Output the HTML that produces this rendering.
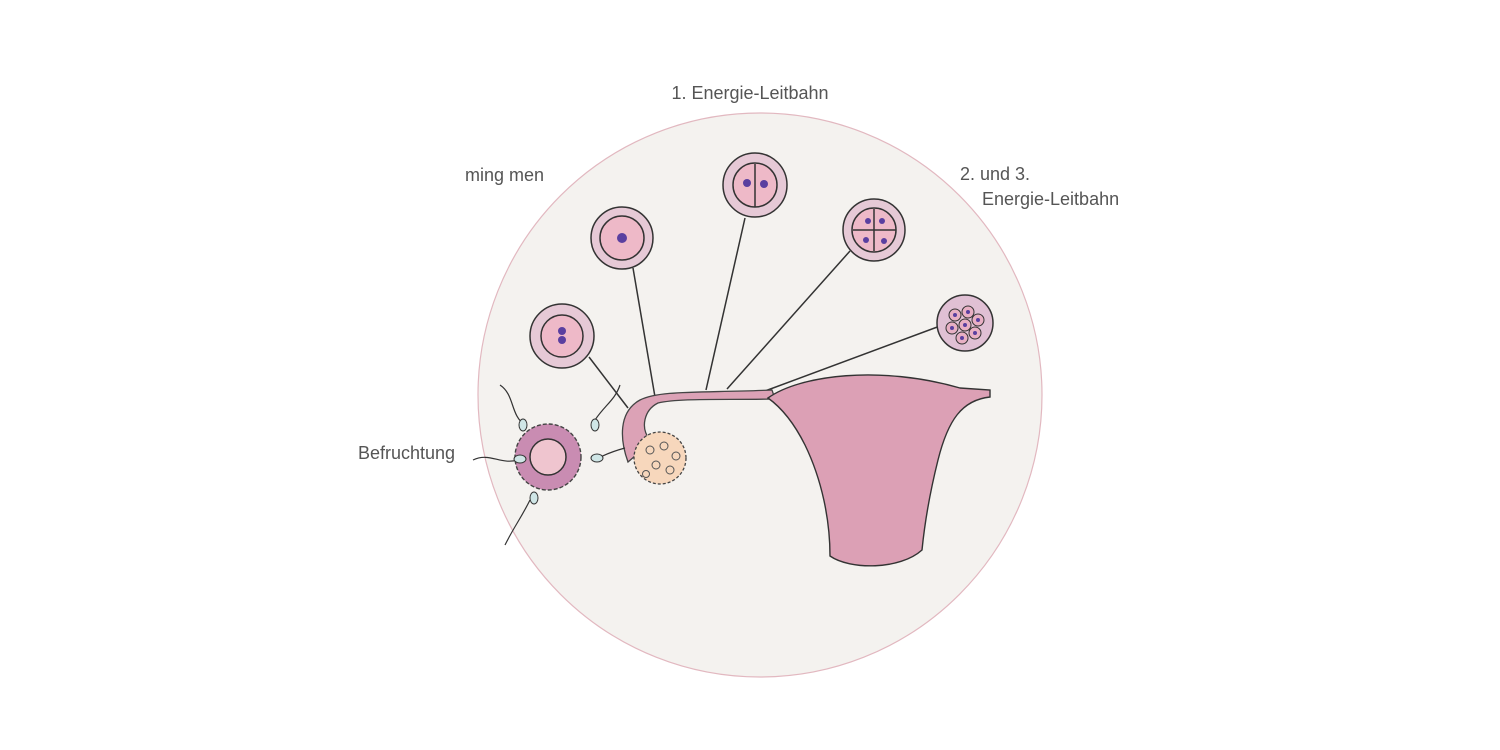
<!DOCTYPE html>
<html><head><style>
body{margin:0;background:#fff;}
svg{display:block}
text{font-family:"Liberation Sans",sans-serif;font-size:18px;fill:#555;}
</style></head><body>
<svg width="1500" height="750" viewBox="0 0 1500 750">
<circle cx="760" cy="395" r="282" fill="#f4f2ef" stroke="#e2b8c0" stroke-width="1.2"/>
<text x="750" y="99" text-anchor="middle">1. Energie-Leitbahn</text>
<text x="465" y="181">ming men</text>
<text x="960" y="180">2. und 3.</text>
<text x="982" y="205">Energie-Leitbahn</text>
<text x="358" y="459">Befruchtung</text>
<g stroke="#333" stroke-width="1.5" fill="none">
<line x1="589" y1="357" x2="628" y2="408"/>
<line x1="633" y1="268" x2="655" y2="397"/>
<line x1="745" y1="218" x2="706" y2="390"/>
<line x1="850" y1="251" x2="727" y2="389"/>
<line x1="940" y1="326" x2="765" y2="391"/>
</g>
<!-- tube -->
<path d="M628,462 C620,440 618,412 640,400 C660,390 700,393 772,390 L775,399 C720,400 680,398 658,403 C644,410 640,428 650,440 L642,450 Z" fill="#dca2b6" stroke="#444" stroke-width="1.3"/>
<!-- uterus -->
<path d="M768,398 C800,375 880,365 960,388 L990,390 L990,397 C962,400 948,420 938,460 C928,500 924,530 922,550 C900,570 850,570 830,556 C830,520 822,480 805,445 C795,425 782,408 768,398 Z" fill="#dca0b5" stroke="#333" stroke-width="1.4"/>
<!-- ovary -->
<circle cx="660" cy="458" r="26" fill="#f7d7bc" stroke="#444" stroke-width="1.3" stroke-dasharray="3 2"/>
<g fill="none" stroke="#555" stroke-width="1">
<circle cx="650" cy="450" r="4"/><circle cx="664" cy="446" r="4"/><circle cx="676" cy="456" r="4"/>
<circle cx="656" cy="465" r="4"/><circle cx="670" cy="470" r="4"/><circle cx="646" cy="474" r="3.5"/></g>
<!-- fertilization -->
<circle cx="548" cy="457" r="33" fill="#c98cb2" stroke="#444" stroke-width="1.4" stroke-dasharray="4 2"/>
<circle cx="548" cy="457" r="18" fill="#efc5cf" stroke="#333" stroke-width="1.5"/>
<g fill="none" stroke="#333" stroke-width="1.2">
<path d="M500,385 C515,395 510,415 525,425"/><path d="M473,460 C490,452 500,465 518,460"/>
<path d="M505,545 C515,525 520,520 530,500"/><path d="M620,385 C615,400 605,405 595,420"/>
<path d="M625,448 C610,452 605,455 598,458"/>
</g>
<g fill="#cfe6e6" stroke="#333" stroke-width="1"><ellipse cx="523" cy="425" rx="4" ry="6"/><ellipse cx="520" cy="459" rx="6" ry="4"/><ellipse cx="534" cy="498" rx="4" ry="6"/><ellipse cx="595" cy="425" rx="4" ry="6"/><ellipse cx="597" cy="458" rx="6" ry="4"/></g>
<!-- cells -->
<g stroke="#333" stroke-width="1.5">
<circle cx="562" cy="336" r="32" fill="#e6c9d6"/><circle cx="562" cy="336" r="21" fill="#eeb9c8"/>
<circle cx="622" cy="238" r="31" fill="#e6c9d6"/><circle cx="622" cy="238" r="22" fill="#eeb9c8"/>
<circle cx="755" cy="185" r="32" fill="#e6c9d6"/><circle cx="755" cy="185" r="22" fill="#eeb9c8"/>
<line x1="755" y1="164" x2="755" y2="207"/>
<circle cx="874" cy="230" r="31" fill="#e6c9d6"/><circle cx="874" cy="230" r="22" fill="#eeb9c8"/>
<line x1="874" y1="209" x2="874" y2="251"/><line x1="853" y1="230" x2="896" y2="230"/>
<circle cx="965" cy="323" r="28" fill="#e0c0d4"/>
</g>
<g fill="#5a3fa0"><circle cx="562" cy="331" r="4"/><circle cx="562" cy="340" r="4"/><circle cx="622" cy="238" r="5"/>
<circle cx="747" cy="183" r="4"/><circle cx="764" cy="184" r="4"/>
<circle cx="868" cy="221" r="3"/><circle cx="882" cy="221" r="3"/><circle cx="866" cy="240" r="3"/><circle cx="884" cy="241" r="3"/></g>
<g stroke="#333" stroke-width="1" fill="#e8b0c4">
<circle cx="955" cy="315" r="6"/><circle cx="968" cy="312" r="6"/><circle cx="978" cy="320" r="6"/><circle cx="965" cy="325" r="6"/><circle cx="952" cy="328" r="6"/><circle cx="975" cy="333" r="6"/><circle cx="962" cy="338" r="6"/></g>
<g fill="#5a3fa0"><circle cx="955" cy="315" r="2"/><circle cx="968" cy="312" r="2"/><circle cx="978" cy="320" r="2"/><circle cx="965" cy="325" r="2"/><circle cx="952" cy="328" r="2"/><circle cx="975" cy="333" r="2"/><circle cx="962" cy="338" r="2"/></g>
</svg>
</body></html>
